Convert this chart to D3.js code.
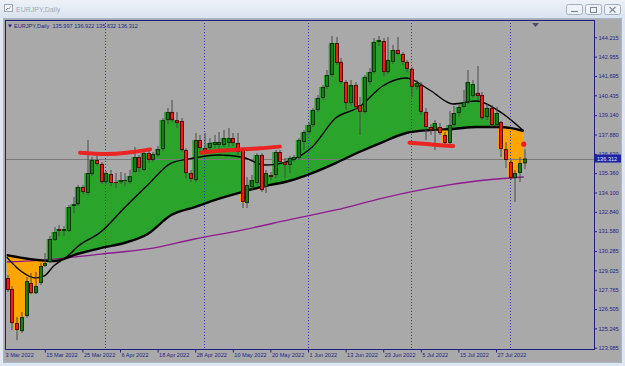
<!DOCTYPE html>
<html>
<head>
<meta charset="utf-8">
<script src="https://cdn.jsdelivr.net/npm/d3@7"></script>
<style>
  body { margin: 0; background: #dde7f2; overflow: hidden; }
  svg { display: block; font-family: "Liberation Sans", Arial, sans-serif; }
</style>
</head>
<body>
<svg id="chart" width="625" height="366"></svg>
<script>
// EURJPY daily bars, 3 Mar 2022 .. 4 Aug 2022 (bar index 0..110)
const opens = [
  128.53,127.81,125.59,125.07,126.05,128.20,127.54,128.20,129.31,129.57,
  131.00,131.72,131.59,131.59,133.22,133.34,134.46,134.07,135.30,136.22,
  135.96,134.78,135.30,134.78,134.78,134.85,134.78,135.44,136.41,135.57,
  136.67,136.22,136.54,136.93,138.82,139.35,138.82,138.76,136.87,135.37,
  134.91,137.52,137.00,137.00,137.20,137.20,137.20,137.33,137.65,137.33,
  136.87,133.41,134.46,134.72,136.54,134.46,135.24,135.24,136.74,136.09,
  135.89,136.22,136.35,137.39,138.04,138.50,139.48,140.26,140.98,141.76,
  143.84,142.61,141.30,139.93,141.11,139.80,139.35,141.30,141.95,143.91,
  143.97,141.95,142.61,143.39,143.13,142.61,142.15,140.98,141.11,139.35,
  138.37,138.17,138.37,137.85,137.33,138.50,139.28,139.67,140.00,140.39,
  140.59,140.45,139.02,139.61,138.50,138.69,136.93,136.09,135.04,135.37,
  136.00
];
const highs = [
  128.72,128.00,125.98,126.31,128.59,128.85,128.92,129.50,130.15,131.26,
  131.85,131.98,131.92,133.28,133.81,134.59,134.59,137.52,136.41,136.48,
  136.09,135.50,135.57,135.37,135.44,135.37,135.57,137.07,136.54,136.87,
  136.87,136.74,137.13,138.95,139.61,140.13,139.35,138.95,137.00,135.57,
  137.98,137.85,137.98,137.65,137.85,138.04,138.17,138.30,137.98,137.98,
  137.00,135.11,135.24,136.67,136.67,135.57,135.44,136.87,136.87,136.35,
  136.48,136.54,137.65,138.17,138.69,139.61,140.45,141.11,142.08,144.30,
  144.23,142.87,141.43,141.43,141.30,140.32,141.76,142.21,144.17,144.30,
  144.17,144.23,143.71,144.23,143.26,142.74,142.28,141.43,141.30,139.61,
  138.56,138.82,138.63,138.04,139.41,139.74,139.87,140.78,142.08,141.43,
  142.34,140.65,139.87,139.80,139.67,138.76,137.39,136.22,135.57,136.41,
  136.92
];
const lows = [
  127.61,125.14,124.48,124.94,125.92,127.48,127.48,128.07,129.24,129.50,
  130.94,131.26,131.26,131.52,132.76,133.22,134.00,133.94,135.17,135.83,
  134.65,134.65,134.52,134.39,134.65,134.52,134.65,135.37,135.44,135.50,
  136.02,136.09,136.41,136.80,138.56,138.69,138.30,136.74,135.04,134.78,
  134.78,136.74,136.67,136.74,137.00,136.87,137.07,137.07,137.13,136.54,
  133.09,133.09,134.26,134.59,134.13,134.07,134.91,135.04,136.02,135.04,
  135.37,136.09,136.22,136.87,137.91,138.37,139.35,140.13,140.85,141.63,
  142.41,141.17,139.48,139.74,139.48,137.85,139.22,141.11,141.82,143.65,
  141.69,141.82,142.47,143.06,142.41,141.95,140.32,140.78,139.15,137.52,
  137.85,136.87,137.85,137.20,137.20,138.30,139.02,139.61,139.87,140.26,
  140.13,138.82,138.82,138.37,138.37,136.41,135.70,134.91,133.48,134.78,
  135.63
];
const closes = [
  127.74,125.59,125.14,125.98,128.33,127.54,128.00,129.31,129.50,131.07,
  131.52,131.59,131.72,133.15,133.34,134.46,134.13,135.37,136.22,135.96,
  134.78,135.37,134.72,134.72,134.91,134.91,135.17,136.41,135.70,136.67,
  136.22,136.61,136.93,138.82,139.35,138.82,138.63,136.87,135.37,134.98,
  137.52,137.00,136.74,137.33,137.39,137.39,137.65,137.65,137.33,136.74,
  133.48,134.59,134.91,136.54,134.26,135.37,135.11,136.74,136.09,135.89,
  136.35,136.41,137.52,138.04,138.50,139.48,140.26,140.98,141.76,143.84,
  142.54,141.30,139.93,141.11,139.67,139.35,141.63,141.95,143.91,144.04,
  141.95,142.74,143.39,143.13,142.61,142.15,140.98,141.24,139.35,138.37,
  138.17,138.63,137.98,137.33,138.50,139.28,139.67,140.00,141.30,141.17,
  140.39,138.95,139.61,138.50,139.28,136.93,136.22,135.04,135.37,136.02,
  136.312
];

// moving averages at some bars
const fastIdx = [0,3,6,8,10,13,15,20,25,30,35,40,45,50,55,60,65,70,75,80,85,90,95,100,105,110];
const fastVal = [129.89,128.98,128.53,128.66,129.31,129.96,130.55,131.52,133.09,134.59,136.02,136.35,136.54,136.41,135.89,136.15,137.07,138.95,139.67,141.04,141.56,140.78,139.87,140.06,139.35,138.11];
const slowIdx = [0,5,10,15,20,25,30,35,40,45,50,55,60,65,70,75,80,85,90,95,100,105,110];
const slowVal = [130.02,129.76,129.63,130.09,130.48,130.81,131.40,132.63,133.15,133.68,134.13,134.52,134.85,135.37,136.02,136.74,137.39,137.98,138.17,138.24,138.37,138.37,138.11];
const longIdx = [0,10,20,30,40,50,60,70,80,90,100,110];
const longVal = [129.57,129.76,130.09,130.42,131.07,131.65,132.31,132.96,133.74,134.39,134.85,135.11];

// hand drawn red marks (bar index, price)
const mark1 = [[15.6,136.69],[21.3,136.61],[25.5,136.69],[30.5,136.91]];
const mark2 = [[41.3,136.69],[45.4,136.82],[49.6,136.91],[53.9,136.98],[58.1,137.09]];
const mark3 = [[85.7,137.35],[89.4,137.26],[92.9,137.17],[95.0,137.13]];
const dotIdx = 110, dotPrice = 137.25;

const priceTicks = [144.215,142.955,141.695,140.435,139.140,137.880,136.620,135.360,134.100,132.840,131.580,130.285,129.025,127.765,126.505,125.245,123.985];
const timeIdx = [0,8,16,24,32,40,48,56,64,72,80,88,96,104];
const timeLabels = ['3 Mar 2022','15 Mar 2022','25 Mar 2022','6 Apr 2022','18 Apr 2022','28 Apr 2022','10 May 2022','20 May 2022','1 Jun 2022','13 Jun 2022','23 Jun 2022','5 Jul 2022','15 Jul 2022','27 Jul 2022'];
const monthIdx = [21,42,64,86,107];
const lastPrice = 136.312;
const legend = 'EURJPY,Daily  135.997 136.922 135.632 136.312';

const W = 625, H = 366;
const pl = 5, pt = 20, pr = 594, pb = 349;
const navy = '#1f1f86';

const svg = d3.select('#chart');
const defs = svg.append('defs');

const x = d3.scaleLinear().domain([0, 110]).range([6.7, 523.7]);
const y = d3.scaleLinear().domain([123.985, 144.215]).range([347.7, 37.3]);

// ---- window chrome
const tb = defs.append('linearGradient').attr('id', 'tb').attr('x1', 0).attr('x2', 0).attr('y1', 0).attr('y2', 1);
tb.append('stop').attr('offset', 0).attr('stop-color', '#edf2f8');
tb.append('stop').attr('offset', 1).attr('stop-color', '#dae4ef');
svg.append('rect').attr('width', W).attr('height', H).attr('fill', '#dfe8f2');
svg.append('rect').attr('width', W).attr('height', 18).attr('fill', 'url(#tb)');
svg.append('rect').attr('x', 4.5).attr('y', 4.5).attr('width', 8).attr('height', 7)
  .attr('fill', '#f4f6f9').attr('stroke', '#9aa6b4');
svg.append('path').attr('d', 'M6,10 L8,8 L9,9 L11,6').attr('fill', 'none').attr('stroke', '#9aa6b4');
svg.append('text').attr('x', 16).attr('y', 12).attr('font-size', 7).attr('fill', '#a3abb5').text('EURJPY,Daily');

const btnX = [566, 585, 604];
svg.selectAll('.btn').data(btnX).enter().append('rect')
  .attr('x', d => d + 0.5).attr('y', 4.5).attr('width', 16).attr('height', 10).attr('rx', 2)
  .attr('fill', '#eef3f8').attr('stroke', '#a2afbf');
svg.append('path').attr('d', 'M571,11.5 H578').attr('stroke', '#7d8896').attr('stroke-width', 1.2);
svg.append('rect').attr('x', 590.5).attr('y', 7.5).attr('width', 6).attr('height', 5).attr('fill', 'none').attr('stroke', '#7d8896');
svg.append('path').attr('d', 'M609.5,7 L615.5,12.5 M615.5,7 L609.5,12.5').attr('stroke', '#7d8896').attr('stroke-width', 1.1);

// client area
svg.append('rect').attr('x', 3.5).attr('y', 18.5).attr('width', 618).attr('height', 344)
  .attr('fill', '#a9a9a9').attr('stroke', '#a9b7c8');

// ---- plot
defs.append('clipPath').attr('id', 'plotclip').append('rect')
  .attr('x', pl).attr('y', pt).attr('width', pr - pl).attr('height', pb - pt);
const plot = svg.append('g').attr('clip-path', 'url(#plotclip)');

const bars = d3.range(closes.length);
const slowPts = slowIdx.map((d, i) => [d, slowVal[i]]);
const fastPts = fastIdx.map((d, i) => [d, fastVal[i]]);
const longPts = longIdx.map((d, i) => [d, longVal[i]]);

const slowArea = edge => d3.area().x(d => x(d[0])).y0(edge).y1(d => y(d[1])).curve(d3.curveMonotoneX);
defs.append('clipPath').attr('id', 'above').append('path').attr('d', slowArea(pt)(slowPts));
defs.append('clipPath').attr('id', 'below').append('path').attr('d', slowArea(pb)(slowPts));

// cloud between candle bodies and slow average
plot.append('g').attr('clip-path', 'url(#above)').append('path').datum(bars)
  .attr('d', d3.area().x(i => x(i)).y0(pb).y1(i => y(Math.max(opens[i], closes[i]))).curve(d3.curveStep))
  .attr('fill', '#2ba42b');
plot.append('g').attr('clip-path', 'url(#below)').append('path').datum(bars)
  .attr('d', d3.area().x(i => x(i)).y0(pt).y1(i => y(Math.min(opens[i], closes[i]))).curve(d3.curveStep))
  .attr('fill', '#ffa500');

// month separators
plot.selectAll('.sep').data(monthIdx).enter().append('line')
  .attr('x1', d => Math.round(x(d)) + 0.5).attr('x2', d => Math.round(x(d)) + 0.5)
  .attr('y1', pt).attr('y2', pb)
  .attr('stroke', '#3838a8').attr('stroke-dasharray', '1,2');

// last price line
plot.append('line').attr('x1', pl).attr('x2', pr)
  .attr('y1', Math.round(y(lastPrice)) + 0.5).attr('y2', Math.round(y(lastPrice)) + 0.5)
  .attr('stroke', '#7a7a7a');

// moving averages
const lineGen = d3.line().x(d => x(d[0])).y(d => y(d[1])).curve(d3.curveMonotoneX);
plot.append('path').datum(longPts).attr('d', lineGen).attr('fill', 'none').attr('stroke', '#8e1b8e').attr('stroke-width', 1.3);
plot.append('path').datum(slowPts).attr('d', lineGen).attr('fill', 'none').attr('stroke', '#000').attr('stroke-width', 2.4);
plot.append('path').datum(fastPts).attr('d', lineGen).attr('fill', 'none').attr('stroke', '#000').attr('stroke-width', 1.4);

// candles
const cg = plot.append('g');
const cx = i => Math.round(x(i));
cg.selectAll('.wick').data(bars).enter().append('rect')
  .attr('x', i => cx(i) + 0.5).attr('width', 1)
  .attr('y', i => y(highs[i])).attr('height', i => y(lows[i]) - y(highs[i]))
  .attr('fill', '#4a4a4a');
cg.selectAll('.body').data(bars).enter().append('rect')
  .attr('x', i => cx(i) - 1).attr('width', 4)
  .attr('y', i => y(Math.max(opens[i], closes[i])))
  .attr('height', i => Math.max(1, y(Math.min(opens[i], closes[i])) - y(Math.max(opens[i], closes[i]))))
  .attr('fill', i => closes[i] >= opens[i] ? '#0b350b' : '#5a0707');
cg.selectAll('.inner').data(bars).enter().append('rect')
  .attr('x', i => cx(i)).attr('width', 2)
  .attr('y', i => y(Math.max(opens[i], closes[i])) + 1)
  .attr('height', i => Math.max(0, y(Math.min(opens[i], closes[i])) - y(Math.max(opens[i], closes[i])) - 2))
  .attr('fill', i => closes[i] >= opens[i] ? '#1c7a1c' : '#f01a1a');

// red annotations
const markGen = d3.line().x(d => x(d[0])).y(d => y(d[1])).curve(d3.curveCatmullRom);
plot.selectAll('.mark').data([mark1, mark2, mark3]).enter().append('path')
  .attr('d', markGen).attr('fill', 'none').attr('stroke', '#ee1c1c')
  .attr('stroke-width', 4).attr('stroke-linecap', 'round').attr('opacity', 0.95);
plot.append('circle').attr('cx', x(dotIdx)).attr('cy', y(dotPrice)).attr('r', 2.6).attr('fill', '#e8201c');

// frame
svg.append('rect').attr('x', pl + 0.5).attr('y', pt + 0.5)
  .attr('width', pr - pl).attr('height', pb - pt)
  .attr('fill', 'none').attr('stroke', navy);

// chart shift marker
svg.append('path').attr('d', 'M532,23 L539,23 L535.5,27 Z').attr('fill', '#4b4b6b');

// legend
svg.append('path').attr('d', 'M8,24.5 L12,24.5 L10,27.5 Z').attr('fill', navy);
svg.append('text').attr('x', 14).attr('y', 28).attr('font-size', 5.6).attr('fill', navy)
  .attr('xml:space', 'preserve').text(legend);

// price axis
const yAxis = d3.axisRight(y).tickValues(priceTicks).tickSize(2.5).tickPadding(1.5).tickFormat(d3.format('.3f'));
svg.append('g').attr('transform', `translate(${pr + 0.5},0)`).call(yAxis)
  .call(g => g.select('.domain').remove())
  .call(g => g.selectAll('line').attr('stroke', navy))
  .call(g => g.selectAll('text').attr('fill', navy).attr('font-size', 5.6).attr('font-family', null));

// last price label
const ly = y(lastPrice);
svg.append('rect').attr('x', pr + 1).attr('y', ly - 4).attr('width', 26).attr('height', 8).attr('fill', '#1d23a4');
svg.append('text').attr('x', pr + 3).attr('y', ly + 2).attr('font-size', 5.6).attr('fill', '#e4e4f4')
  .text(d3.format('.3f')(lastPrice));

// time axis
const xAxis = d3.axisBottom(x).tickValues(timeIdx).tickSize(3).tickPadding(0.5).tickFormat((d, i) => timeLabels[i]);
const xg = svg.append('g').attr('transform', `translate(0.5,${pb + 0.5})`).call(xAxis);
xg.select('.domain').remove();
xg.selectAll('line').attr('stroke', navy).attr('opacity', d => d === 0 ? 0 : 1);
xg.selectAll('text').attr('fill', navy).attr('font-size', 5.6).attr('font-family', null)
  .attr('text-anchor', 'start').attr('x', d => d === 0 ? pl - x(0) - 0.5 : 1);
</script>
</body>
</html>
